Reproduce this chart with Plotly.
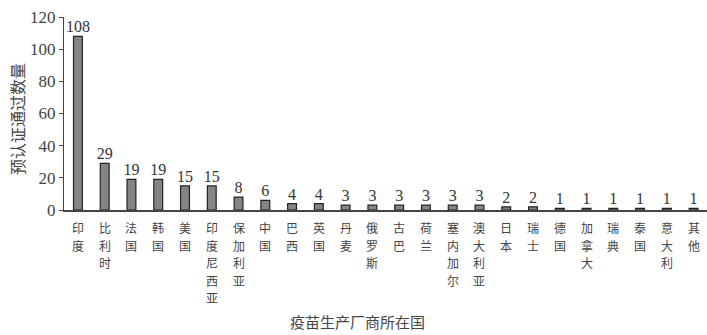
import plotly.graph_objects as go

countries = ["印度", "比利时", "法国", "韩国", "美国", "印度尼西亚", "保加利亚", "中国", "巴西", "英国",
             "丹麦", "俄罗斯", "古巴", "荷兰", "塞内加尔", "澳大利亚", "日本", "瑞士", "德国", "加拿大",
             "瑞典", "泰国", "意大利", "其他"]
counts = [108, 29, 19, 19, 15, 15, 8, 6, 4, 4, 3, 3, 3, 3, 3, 3, 2, 2, 1, 1, 1, 1, 1, 1]
y_ticks = [0, 20, 40, 60, 80, 100, 120]

PLOT_H = 335 - 17 - 125
CHAR_STEP = 17.5
LABEL_GAP = 8

fig = go.Figure()
fig.add_trace(go.Bar(
    x=countries, y=counts,
    width=0.33,
    marker=dict(color="#858585", line=dict(color="#222222", width=1.2)),
))
fig.add_trace(go.Scatter(
    x=countries, y=counts, mode="text",
    text=[str(v) for v in counts], textposition="top center",
    textfont=dict(family="Liberation Serif", size=16, color="#333333"),
    cliponaxis=False, hoverinfo="skip",
))

fig.update_layout(
    width=707, height=335,
    margin=dict(l=64, r=0, t=17, b=125),
    paper_bgcolor="white", plot_bgcolor="white",
    showlegend=False,
)
fig.update_xaxes(
    showticklabels=False,
    showline=True, linecolor="#444444", linewidth=1.5,
    ticks="", showgrid=False, range=[-0.52, 23.5],
)
fig.update_yaxes(
    range=[0, 120], tickvals=y_ticks,
    tickfont=dict(family="Liberation Serif", size=17, color="#444444"),
    showline=True, linecolor="#444444", linewidth=1.2,
    ticks="outside", ticklen=4, tickcolor="#444444",
    showgrid=False, zeroline=False,
)

# vertical (stacked) category labels, one character per row
for c in countries:
    for j, ch in enumerate(c):
        fig.add_annotation(
            text=ch, xref="x", yref="paper", x=c,
            y=-(LABEL_GAP + CHAR_STEP * j) / PLOT_H,
            xanchor="center", yanchor="top", showarrow=False,
            font=dict(family="Noto Sans CJK SC", size=12, color="#444444"),
            borderpad=0,
        )

fig.add_annotation(
    text="预认证通过数量", textangle=-90,
    xref="paper", yref="paper", x=-0.072, y=0.47,
    xanchor="center", yanchor="middle", showarrow=False,
    font=dict(family="Noto Sans CJK SC", size=16, color="#444444"),
)
fig.add_annotation(
    text="疫苗生产厂商所在国",
    xref="paper", yref="paper", x=0.457, y=-0.58,
    xanchor="center", yanchor="middle", showarrow=False,
    font=dict(family="Noto Sans CJK SC", size=15, color="#444444"),
)

fig.write_html("out.html")
